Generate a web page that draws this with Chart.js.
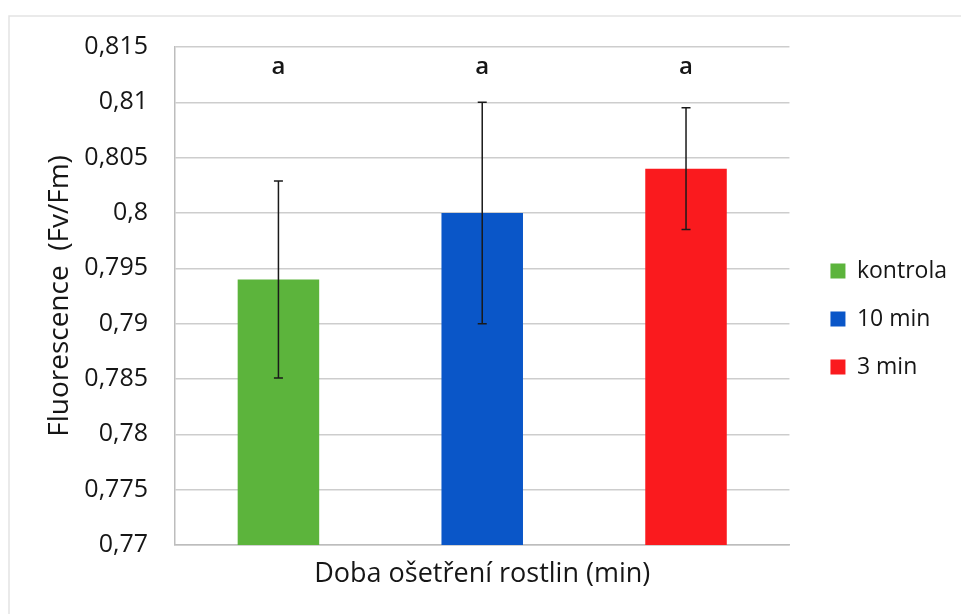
<!DOCTYPE html>
<html>
<head>
<meta charset="utf-8">
<script src="https://cdn.jsdelivr.net/npm/chart.js@4.4.0/dist/chart.umd.min.js"></script>
<style>
  html, body { margin: 0; padding: 0; background: #fff; }
  #wrap { width: 961px; height: 614px; }
</style>
</head>
<body>
<div id="wrap"><canvas id="fluo"></canvas></div>
<script>
// treatment groups and measured Fv/Fm
var groups = ['kontrola', '10 min', '3 min'];
var means = [0.794, 0.800, 0.804];
var errLow = [0.7851, 0.790, 0.7985];
var errHigh = [0.8029, 0.810, 0.8095];
var letters = ['a', 'a', 'a'];
var colors = ['#5cb43c', '#0a56c8', '#fa1a1e'];

var yTicks = { min: 0.77, max: 0.815, step: 0.005 };

var fontFam = '"Open Sans", sans-serif';
var textColor = '#161616';

var datasets = [];
for (var i = 0; i < groups.length; i++) {
  datasets.push({
    label: groups[i],
    data: [means[i]],
    backgroundColor: colors[i],
    borderWidth: 0
  });
}

// faint outer frame
var framePlugin = {
  id: 'frame',
  beforeDraw: function(chart) {
    var ctx = chart.ctx;
    ctx.save();
    ctx.strokeStyle = '#e3e3e3';
    ctx.lineWidth = 1.5;
    ctx.beginPath();
    ctx.moveTo(9, chart.height);
    ctx.lineTo(9, 16);
    ctx.lineTo(chart.width, 16);
    ctx.stroke();
    ctx.restore();
  }
};

// push the legend a bit away from the plot
var legendShift = {
  id: 'legendShift',
  afterLayout: function(chart) {
    if (chart.legend) {
      chart.legend.left += 16;
      chart.legend.right += 16;
    }
  }
};

// error bars + significance letters
var errorBarPlugin = {
  id: 'errorBars',
  afterDatasetsDraw: function(chart) {
    var ctx = chart.ctx;
    var y = chart.scales.y;
    ctx.save();
    for (var i = 0; i < chart.data.datasets.length; i++) {
      var bar = chart.getDatasetMeta(i).data[0];
      var x = bar.x;
      var top = y.getPixelForValue(errHigh[i]);
      var bot = y.getPixelForValue(errLow[i]);
      ctx.strokeStyle = '#1a1a1a';
      ctx.lineWidth = 1.5;
      ctx.beginPath();
      ctx.moveTo(x, top);
      ctx.lineTo(x, bot);
      ctx.moveTo(x - 4.5, top);
      ctx.lineTo(x + 4.5, top);
      ctx.moveTo(x - 4.5, bot);
      ctx.lineTo(x + 4.5, bot);
      ctx.stroke();

      ctx.fillStyle = textColor;
      ctx.font = '600 24px ' + fontFam;
      ctx.textAlign = 'center';
      ctx.textBaseline = 'middle';
      ctx.fillText(letters[i], x, chart.chartArea.top + 20);
    }
    ctx.restore();
  }
};

Chart.defaults.font.family = fontFam;
Chart.defaults.color = textColor;

new Chart(document.getElementById('fluo'), {
  type: 'bar',
  data: {
    labels: [''],
    datasets: datasets
  },
  options: {
    responsive: true,
    maintainAspectRatio: false,
    animation: false,
    layout: {
      padding: { left: 43, right: 20, top: 47, bottom: 23 }
    },
    datasets: {
      bar: { categoryPercentage: 0.995, barPercentage: 0.4 }
    },
    scales: {
      x: {
        afterFit: function(scale) { scale.height = 46; },
        grid: { display: false, drawTicks: false },
        border: { display: true, color: '#bdbdbd', width: 1.5 },
        ticks: { display: false },
        title: {
          display: true,
          text: 'Doba ošetření rostlin (min)',
          font: { size: 27 },
          color: textColor,
          padding: 0
        }
      },
      y: {
        min: yTicks.min,
        max: yTicks.max,
        afterFit: function(scale) { scale.width = 132; },
        ticks: {
          stepSize: yTicks.step,
          padding: 27,
          font: { size: 25 },
          color: textColor,
          callback: function(v) {
            return (Math.round(v * 1000) / 1000).toString().replace('.', ',');
          }
        },
        grid: { color: '#cdcdcd', lineWidth: 1.5, drawTicks: false },
        border: { display: true, color: '#bdbdbd', width: 1.5 },
        title: {
          display: true,
          text: 'Fluorescence  (Fv/Fm)',
          font: { size: 28 },
          color: textColor,
          padding: 0
        }
      }
    },
    plugins: {
      legend: {
        position: 'right',
        labels: {
          boxWidth: 15,
          boxHeight: 15,
          padding: 25,
          font: { size: 23 },
          color: textColor
        }
      },
      tooltip: { enabled: false }
    }
  },
  plugins: [framePlugin, legendShift, errorBarPlugin]
});
</script>
</body>
</html>
